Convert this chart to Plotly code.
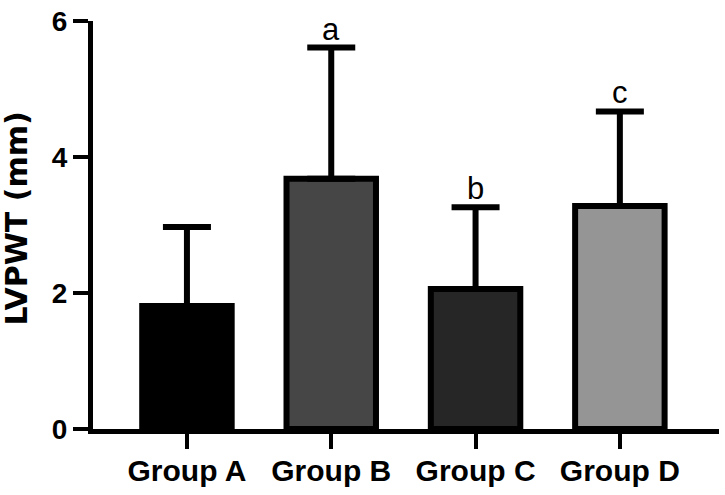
import plotly.graph_objects as go

categories = ["Group A", "Group B", "Group C", "Group D"]
means = [1.81, 3.68, 2.06, 3.28]
sds = [1.16, 1.93, 1.20, 1.39]
bar_colors = ["#000000", "#464646", "#262626", "#959595"]
sig_labels = ["", "a", "b", "c"]
y_ticks = [0, 2, 4, 6]

fig = go.Figure()
fig.add_trace(go.Bar(
    x=categories,
    y=means,
    width=0.62,
    marker=dict(color=bar_colors, line=dict(color="black", width=6)),
    error_y=dict(type="data", array=sds, arrayminus=[0] * len(sds), symmetric=False,
                 color="black", thickness=6, width=24),
    showlegend=False,
))

for cat, m, s, lab in zip(categories, means, sds, sig_labels):
    if lab:
        fig.add_annotation(x=cat, y=m + s, text=lab, showarrow=False,
                           yanchor="bottom", yshift=-1,
                           font=dict(family="Liberation Sans, Arial", size=31, color="black"))

fig.add_annotation(xref="paper", yref="paper", x=-0.122, y=0.515, text="<b>LVPWT (mm)</b>",
                   textangle=-90, showarrow=False, xanchor="center", yanchor="middle",
                   font=dict(family="DejaVu Sans, Liberation Sans", size=30, color="black"))

fig.update_layout(
    width=725, height=495,
    margin=dict(l=93, r=6, t=15, b=66),
    paper_bgcolor="white", plot_bgcolor="white",
)
fig.update_xaxes(
    range=[-0.651, 3.687],
    showline=True, linecolor="black", linewidth=5,
    ticks="outside", ticklen=15, tickwidth=4, tickcolor="black",
    ticklabelstandoff=-4,
    tickfont=dict(family="Liberation Sans, Arial", size=30, color="black", weight="bold"),
    showgrid=False, zeroline=False,
)
fig.update_yaxes(
    range=[0, 6], tickvals=y_ticks,
    showline=True, linecolor="black", linewidth=5,
    ticks="outside", ticklen=15, tickwidth=4, tickcolor="black",
    ticklabeloverflow="allow",
    tickfont=dict(family="Liberation Sans, Arial", size=28, color="black", weight="bold"),
    showgrid=False, zeroline=False,
)

fig.write_html("out.html", config={"displayModeBar": False},
               post_script="document.body.style.margin='0';document.body.style.overflow='hidden';")
